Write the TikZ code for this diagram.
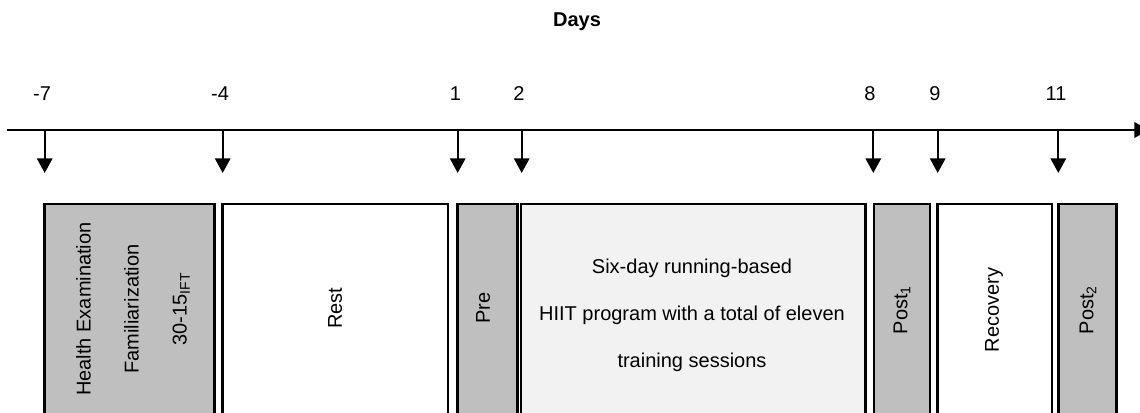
\documentclass[tikz,border=0pt]{standalone}
\usepackage{fontspec}
\setmainfont{Liberation Sans}
\usetikzlibrary{arrows.meta,positioning}
\definecolor{phasegray}{RGB}{191,191,191}
\definecolor{trainfill}{RGB}{242,242,242}

\begin{document}
\begin{tikzpicture}[x=0.75pt,y=-0.75pt,
		txt/.style={inner sep=0pt,font=\fontsize{15}{18}\selectfont},
		phase/.style={draw,line width=1.9pt},
		daytick/.style={line width=1.7pt,-{Triangle[width=11.5pt,length=11pt]}},
		timeaxis/.style={line width=1.9pt,-{Triangle[width=11.5pt,length=11pt]}}]
		\useasboundingbox (0,0) rectangle (1140,413);
		\clip (0,0) rectangle (1140,413);
		
		% phases
		\foreach \xa/\xb/\col in {44.7/214.7/phasegray,222.7/448/white,457.3/517.7/phasegray,521/865.7/trainfill,874/930/phasegray,937.7/1052/white,1058.3/1116.7/phasegray}
		\draw[phase,fill=\col] (\xa,204) rectangle (\xb,430);
		
		% time axis
		\coordinate (axisL) at (7,130);
		\coordinate (axisR) at (1149,130);
		\draw[timeaxis] (axisL) -- (axisR);
		\node[txt,font=\fontsize{15}{18}\selectfont\bfseries,anchor=base] (days) at (577,26.7) {Days};
		
		\foreach \x/\lx/\d [count=\i] in {44.7/42/-7,222.7/220/-4,457.7/455.5/1,521.7/519/2,873.3/870/8,937.7/935/9,1058.3/1056/11}
		{
			\coordinate (d\i) at (\x,130);
			\coordinate (a\i) at (\x,173);
			\draw[daytick] (d\i) -- (a\i);
			\node[txt] (lab\i) at (\lx,94) {\d};
		}
		
		% labels inside the phases
		\node[txt,rotate=90,align=center,font=\fontsize{15}{36}\selectfont] (famil) at (133,309) {Health Examination\\Familiarization\\30-15\textsubscript{IFT}};
		\node[txt,rotate=90] (rest) at (335,308) {Rest};
		\node[txt,rotate=90] (pre) at (483,308) {Pre};
		\node[txt,align=center,font=\fontsize{15}{35.3}\selectfont] (hiit) at (692,315) {Six-day running-based\\HIIT program with a total of eleven\\training sessions};
		\node[txt,rotate=90] (post1) at (902,310) {Post\textsubscript{1}};
		\node[txt,rotate=90] (recov) at (994,310) {Recovery};
		\node[txt,rotate=90] (post2) at (1088,310) {Post\textsubscript{2}};
\end{tikzpicture}
\end{document}
